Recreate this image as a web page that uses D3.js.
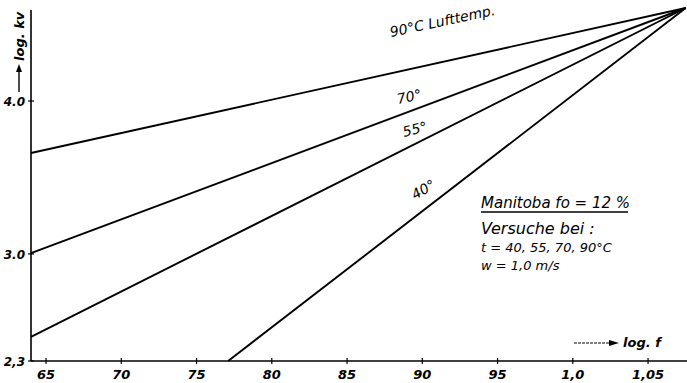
<!DOCTYPE html>
<html>
<head>
<meta charset="utf-8">
<script src="https://cdn.jsdelivr.net/npm/d3@7"></script>
<style>
  html, body { margin: 0; padding: 0; background: #fff; }
  svg { display: block; }
  text { font-family: "DejaVu Sans", sans-serif; font-style: italic; fill: #000; }
</style>
</head>
<body>
<div id="chart"></div>
<script>
// log f (x) and log kv (y)
const xTicks = [0.65, 0.70, 0.75, 0.80, 0.85, 0.90, 0.95, 1.0, 1.05];
const xTickLabels = ["65", "70", "75", "80", "85", "90", "95", "1,0", "1,05"];
const yTicks = [4.0, 3.0, 2.3];
const yTickLabels = ["4.0", "3.0", "2,3"];

const line90 = [[0.64, 3.66], [1.075, 4.608]];
const line70 = [[0.64, 3.005], [1.075, 4.608]];
const line55 = [[0.64, 2.458], [1.075, 4.608]];
const line40 = [[0.771, 2.3], [1.075, 4.608]];

const noteLines = ["Versuche bei :", "t = 40, 55, 70, 90°C", "w = 1,0 m/s"];

const width = 687, height = 383;
const margin = { top: 10, right: 0, bottom: 22, left: 31 };

const svg = d3.select("#chart").append("svg")
  .attr("width", width).attr("height", height);

const x = d3.scaleLinear()
  .domain([0.64, 0.64 + (width - margin.left) / 1505])
  .range([margin.left, width]);
const y = d3.scaleLinear()
  .domain([2.3, 4.0])
  .range([361, 101]);

// axes
svg.append("line")
  .attr("x1", margin.left).attr("x2", margin.left)
  .attr("y1", margin.top).attr("y2", y(2.3))
  .attr("stroke", "#000").attr("stroke-width", 1.6);
svg.append("line")
  .attr("x1", margin.left).attr("x2", width)
  .attr("y1", y(2.3)).attr("y2", y(2.3))
  .attr("stroke", "#000").attr("stroke-width", 1.6);

svg.selectAll(".xtick").data(xTicks).join("line")
  .attr("x1", d => x(d)).attr("x2", d => x(d))
  .attr("y1", y(2.3) - 3).attr("y2", y(2.3) + 3)
  .attr("stroke", "#000").attr("stroke-width", 1.2);
svg.selectAll(".xlab").data(xTicks).join("text")
  .attr("x", d => x(d)).attr("y", y(2.3) + 18)
  .attr("text-anchor", "middle")
  .style("font-size", "13px").style("font-weight", "bold")
  .text((d, i) => xTickLabels[i]);

svg.selectAll(".ytick").data(yTicks).join("line")
  .attr("x1", margin.left - 3).attr("x2", margin.left + 3)
  .attr("y1", d => y(d)).attr("y2", d => y(d))
  .attr("stroke", "#000").attr("stroke-width", 1.2);
svg.selectAll(".ylab").data(yTicks).join("text")
  .attr("x", margin.left - 6).attr("y", d => y(d) + 5)
  .attr("text-anchor", "end")
  .style("font-size", "12px").style("font-weight", "bold")
  .text((d, i) => yTickLabels[i]);

// curves
const lineGen = d3.line().x(d => x(d[0])).y(d => y(d[1]));
[line90, line70, line55, line40].forEach(pts => {
  svg.append("path")
    .attr("d", lineGen(pts))
    .attr("fill", "none").attr("stroke", "#000").attr("stroke-width", 1.9);
});

// line labels
const label = (tx, ty, rot, txt, size) => svg.append("text")
  .attr("transform", `translate(${tx},${ty}) rotate(${rot})`)
  .style("font-size", size + "px")
  .text(txt);
label(391, 37, -12, "90°C Lufttemp.", 14);
label(398, 104, -12, "70°", 14);
label(404, 137, -14, "55°", 14);
label(415, 200, -30, "40°", 14);

// y axis title
const yt = svg.append("g").attr("transform", "translate(19,92) rotate(-90)");
yt.append("line").attr("x1", 0).attr("x2", 22).attr("y1", 0).attr("y2", 0)
  .attr("stroke", "#000").attr("stroke-width", 1.4);
yt.append("path").attr("d", "M28,0 L20,-3 L20,3 Z").attr("fill", "#000");
yt.append("text").attr("x", 31).attr("y", 5)
  .style("font-size", "13px").style("font-weight", "bold").text("log. kv");

// x axis title
svg.append("line").attr("x1", 574).attr("x2", 610).attr("y1", 343).attr("y2", 343)
  .attr("stroke", "#000").attr("stroke-width", 1.2).attr("stroke-dasharray", "3,1");
svg.append("path").attr("d", "M619,343 L609,340 L609,346 Z").attr("fill", "#000");
svg.append("text").attr("x", 623).attr("y", 347)
  .style("font-size", "13px").style("font-weight", "bold").text("log. f");

// note block
svg.append("text").attr("x", 481).attr("y", 208)
  .style("font-size", "15px").text("Manitoba  fo = 12 %");
svg.append("line").attr("x1", 481).attr("x2", 628).attr("y1", 212).attr("y2", 212)
  .attr("stroke", "#000").attr("stroke-width", 1.5);
svg.selectAll(".note").data(noteLines).join("text")
  .attr("x", 481).attr("y", (d, i) => 234 + i * 18)
  .style("font-size", (d, i) => i === 0 ? "16px" : "13px")
  .text(d => d);
</script>
</body>
</html>
